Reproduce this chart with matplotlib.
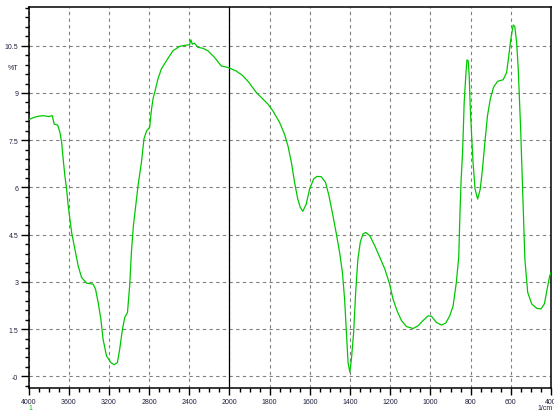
import matplotlib
matplotlib.use("Agg")
import matplotlib.pyplot as plt
import numpy as np
from matplotlib.ticker import FixedLocator, FixedFormatter

# IR spectrum
wavenumber = [
    3998, 3950, 3903, 3853, 3800, 3764, 3744, 3710, 3687, 3670, 3655, 3638,
    3621, 3605, 3588, 3571, 3538, 3506, 3472, 3422, 3357, 3333, 3307, 3280,
    3258, 3224, 3181, 3148, 3115, 3092, 3065, 3042, 3015, 2993, 2976, 2956,
    2933, 2910, 2876, 2851, 2824, 2794, 2777, 2761, 2744, 2712, 2678, 2628,
    2563, 2496, 2430, 2397, 2384, 2370, 2347, 2315, 2265, 2215, 2149, 2082,
    2017, 2000, 1967, 1934, 1904, 1867, 1809, 1784, 1751, 1726, 1709, 1692,
    1676, 1660, 1648, 1635, 1618, 1601, 1581, 1565, 1543, 1522, 1505, 1485,
    1468, 1452, 1438, 1427, 1418, 1410, 1401, 1393, 1382, 1372, 1361, 1349,
    1336, 1322, 1302, 1277, 1252, 1227, 1203, 1186, 1166, 1144, 1119, 1086,
    1061, 1037, 1012, 995, 970, 945, 924, 904, 887, 871, 859, 853, 847, 840,
    832, 823, 818, 812, 807, 802, 795, 788, 778, 765, 752, 741, 729, 716, 702,
    686, 666, 638, 621, 610, 600, 588, 580, 571, 563, 551, 541, 530, 516, 496,
    471, 450, 433, 416, 406, 400,
]
transmittance = [
    8.15, 8.22, 8.26, 8.28, 8.25, 8.28, 8.01, 7.98, 7.75, 7.43, 6.90, 6.37,
    5.95, 5.42, 5.00, 4.57, 4.04, 3.51, 3.14, 2.96, 2.93, 2.77, 2.35, 1.82,
    1.18, 0.65, 0.44, 0.37, 0.44, 0.87, 1.50, 1.87, 2.03, 2.88, 3.94, 4.78,
    5.42, 6.05, 6.80, 7.54, 7.80, 7.91, 8.45, 8.81, 9.02, 9.44, 9.76, 10.02,
    10.34, 10.48, 10.52, 10.53, 10.69, 10.55, 10.58, 10.45, 10.42, 10.34,
    10.13, 9.86, 9.81, 9.79, 9.70, 9.55, 9.34, 9.02, 8.65, 8.43, 8.07, 7.69,
    7.32, 6.80, 6.16, 5.63, 5.37, 5.24, 5.47, 5.95, 6.27, 6.35, 6.34, 6.16,
    5.74, 5.10, 4.52, 3.94, 3.30, 2.45, 1.40, 0.44, 0.13, 0.55, 1.40, 2.67,
    3.72, 4.26, 4.52, 4.57, 4.47, 4.15, 3.78, 3.41, 2.93, 2.45, 2.08, 1.77,
    1.58, 1.52, 1.61, 1.77, 1.92, 1.91, 1.71, 1.63, 1.69, 1.92, 2.24, 2.99,
    3.80, 5.20, 6.27, 7.11, 8.70, 9.65, 10.05, 10.02, 9.55, 8.59, 7.64, 6.80,
    5.95, 5.63, 5.95, 6.58, 7.43, 8.28, 8.81, 9.18, 9.37, 9.42, 9.65, 10.18,
    10.71, 11.16, 11.11, 10.61, 9.76, 7.85, 5.84, 3.72, 2.67, 2.30, 2.16,
    2.14, 2.30, 2.88, 3.20, 3.30,
]

x_major = [4000, 3600, 3200, 2800, 2400, 2000, 1800, 1600, 1400, 1200, 1000, 800, 600, 400]
x_labels = [str(v) for v in x_major]
y_major = [0, 1.5, 3, 4.5, 6, 7.5, 9, 10.5]
y_labels = ["-0", "1.5", "3", "4.5", "6", "7.5", "9", "10.5"]

GREEN = "#00c800"
LABEL = "#202040"


# scale changes at 2000 1/cm: below it, twice as many px per unit
def fwd(w):
    w = np.asarray(w, dtype=float)
    return np.where(w >= 2000, w, 2 * w - 2000)


def inv(u):
    u = np.asarray(u, dtype=float)
    return np.where(u >= 2000, u, (u + 2000) / 2)


plt.rcParams["font.family"] = ["Liberation Sans", "DejaVu Sans"]

fig = plt.figure(figsize=(5.54, 4.14), dpi=100)
ax = fig.add_axes([28.5 / 554, 25 / 414, 522.5 / 554, 381 / 414])

ax.set_xscale("function", functions=(fwd, inv))
ax.set_xlim(4000, 400)
ax.set_ylim(-0.37, 11.73)

ax.plot(wavenumber, transmittance, color=GREEN, lw=0.9, zorder=3)

ax.xaxis.set_major_locator(FixedLocator(x_major))
ax.xaxis.set_major_formatter(FixedFormatter(x_labels))
x_minor = list(np.arange(4000, 2000, -100)) + list(np.arange(2000, 399, -50))
ax.xaxis.set_minor_locator(FixedLocator(x_minor))
ax.yaxis.set_major_locator(FixedLocator(y_major))
ax.yaxis.set_major_formatter(FixedFormatter(y_labels))
ax.yaxis.set_minor_locator(FixedLocator(np.arange(-0.3, 11.8, 0.3)))

ax.grid(True, which="major", color="#808080", ls=(0, (3, 3)), lw=0.8)
ax.axvline(2000, color="black", lw=0.9, zorder=2)

for s in ax.spines.values():
    s.set_color("black")
    s.set_linewidth(1.1)

ax.tick_params(axis="both", which="major", labelsize=5, labelcolor=LABEL,
               color="black", width=1.0)
ax.tick_params(axis="x", which="major", length=5, pad=2)
ax.tick_params(axis="y", which="major", length=5.8, pad=1.5)
ax.tick_params(axis="x", which="minor", length=2.6, width=1.0)
ax.tick_params(axis="y", which="minor", length=2.9, width=1.0)

fig.text(13 / 554, 1 - 69 / 414, "%T", fontsize=5, color=LABEL,
         ha="center", va="center")
fig.text(30 / 554, 1 - 409 / 414, "1", fontsize=5, color=GREEN,
         ha="center", va="center")
fig.text(545 / 554, 1 - 409 / 414, "1/cm", fontsize=5, color=LABEL,
         ha="center", va="center")

fig.savefig("out.png", dpi=100)
